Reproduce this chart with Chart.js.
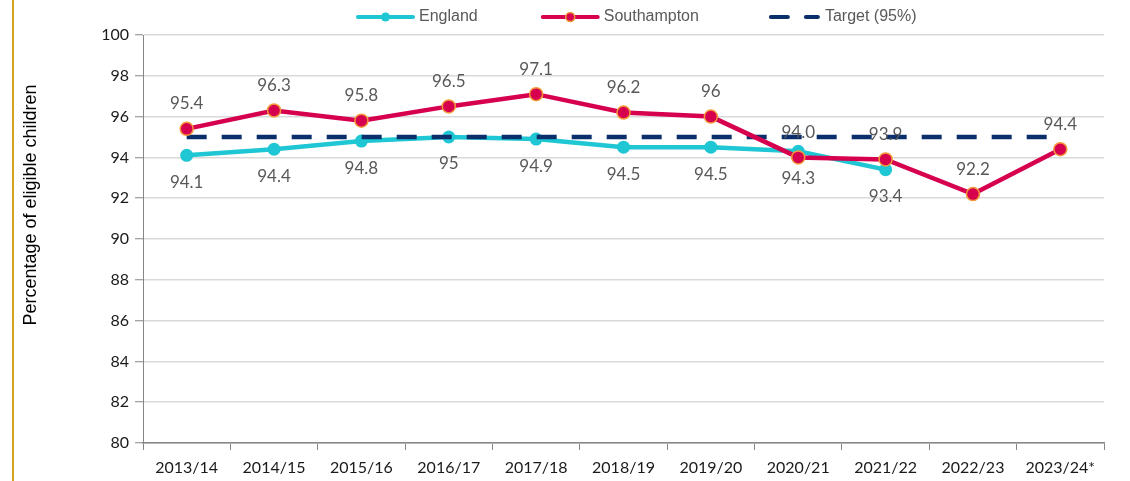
<!DOCTYPE html>
<html><head><meta charset="utf-8">
<script src="https://cdn.jsdelivr.net/npm/chart.js@4/dist/chart.umd.min.js"></script>
<style>
html,body{margin:0;padding:0;background:#fff;overflow:hidden;}
#wrap{position:relative;width:1130px;height:481px;}
#edge{position:absolute;left:12px;top:0;width:2px;height:481px;background:#D4A21C;}
canvas{position:absolute;left:0;top:0;}
</style></head><body>
<div id="wrap"><canvas id="c" width="1130" height="481"></canvas><div id="edge"></div></div>
<script>
const categories = ['2013/14','2014/15','2015/16','2016/17','2017/18','2018/19','2019/20','2020/21','2021/22','2022/23','2023/24*'];
const england = [94.1, 94.4, 94.8, 95.0, 94.9, 94.5, 94.5, 94.3, 93.4, null, null];
const englandLabels = ['94.1','94.4','94.8','95','94.9','94.5','94.5','94.3','93.4', null, null];
const southampton = [95.4, 96.3, 95.8, 96.5, 97.1, 96.2, 96.0, 94.0, 93.9, 92.2, 94.4];
const southamptonLabels = ['95.4','96.3','95.8','96.5','97.1','96.2','96','94.0','93.9','92.2','94.4'];
const target = [95, 95, 95, 95, 95, 95, 95, 95, 95, 95, 95];
const seriesNames = ['England', 'Southampton', 'Target (95%)'];
const yAxisTitle = 'Percentage of eligible children';
const yMin = 80, yMax = 100, yStep = 2;

const CYAN = '#1FC6D3', RED = '#D6004F', ORANGE = '#F39A3A', NAVY = '#0B2F6B';

const labelPlugin = {
  id: 'valueLabels',
  afterDatasetsDraw(chart) {
    const ctx = chart.ctx;
    ctx.save();
    ctx.font = '17px Lato';
    ctx.fillStyle = '#595959';
    ctx.textAlign = 'center';
    ctx.textBaseline = 'middle';
    chart.data.datasets.forEach((ds, i) => {
      if (!ds.valueLabels) return;
      const meta = chart.getDatasetMeta(i);
      meta.data.forEach((pt, j) => {
        const t = ds.valueLabels[j];
        if (t == null || ds.data[j] == null) return;
        ctx.fillText(t, pt.x, pt.y + ds.labelOffset);
      });
    });
    ctx.restore();
  }
};

const decorPlugin = {
  id: 'customLegend',
  afterDraw(chart) {
    const ctx = chart.ctx;
    ctx.save();
    // y-axis title
    ctx.save();
    ctx.translate(31, 205);
    ctx.rotate(-Math.PI / 2);
    ctx.font = '18px "Liberation Sans", Arial, sans-serif';
    ctx.fillStyle = '#000';
    ctx.textAlign = 'center';
    ctx.textBaseline = 'middle';
    ctx.fillText(yAxisTitle, 0, 0);
    ctx.restore();
    // legend
    ctx.font = '16px "Liberation Sans", Arial, sans-serif';
    ctx.fillStyle = '#595959';
    ctx.textBaseline = 'middle';
    const y = 17;
    let x = 357;
    const sw = 57, gap = 5, spacing = 64;
    seriesNames.forEach((name, i) => {
      ctx.lineCap = 'round';
      if (i === 2) {
        ctx.strokeStyle = NAVY; ctx.lineWidth = 4;
        ctx.beginPath(); ctx.moveTo(x + 8, y); ctx.lineTo(x + 25, y); ctx.stroke();
        ctx.beginPath(); ctx.moveTo(x + 43, y); ctx.lineTo(x + sw - 2, y); ctx.stroke();
      } else {
        const col = i === 0 ? CYAN : RED;
        ctx.strokeStyle = col; ctx.lineWidth = 4;
        ctx.beginPath(); ctx.moveTo(x + 1, y); ctx.lineTo(x + sw - 1, y); ctx.stroke();
        ctx.beginPath(); ctx.arc(x + sw / 2, y, 4.5, 0, Math.PI * 2);
        ctx.fillStyle = col; ctx.fill();
        if (i === 1) { ctx.strokeStyle = ORANGE; ctx.lineWidth = 1.5; ctx.stroke(); }
      }
      ctx.fillStyle = '#595959';
      ctx.fillText(name, x + sw + gap, y);
      x += sw + gap + ctx.measureText(name).width + spacing;
    });
    ctx.restore();
  }
};

new Chart(document.getElementById('c'), {
  type: 'line',
  data: {
    labels: categories,
    datasets: [
      { label: seriesNames[0], data: england, borderColor: CYAN, backgroundColor: CYAN,
        borderWidth: 4.5, pointRadius: 6.5, pointHoverRadius: 6.5, pointBorderWidth: 0,
        pointBackgroundColor: CYAN, tension: 0, order: 2,
        valueLabels: englandLabels, labelOffset: 27 },
      { label: seriesNames[1], data: southampton, borderColor: RED, backgroundColor: RED,
        borderWidth: 4.5, pointRadius: 6.5, pointHoverRadius: 6.5, pointBorderWidth: 1.5,
        pointBackgroundColor: RED, pointBorderColor: ORANGE, tension: 0, order: 0,
        valueLabels: southamptonLabels, labelOffset: -25 },
      { label: seriesNames[2], data: target, borderColor: NAVY, borderWidth: 4.5,
        borderDash: [20, 15], pointRadius: 0, pointHoverRadius: 0, tension: 0, order: 1 }
    ]
  },
  options: {
    responsive: false,
    animation: false,
    devicePixelRatio: 1,
    layout: { padding: { left: 14, right: 26, top: 35, bottom: 0 } },
    plugins: { legend: { display: false }, tooltip: { enabled: false } },
    scales: {
      x: {
        offset: true,
        grid: { offset: true, drawOnChartArea: false, drawTicks: true, tickLength: 7, tickColor: '#868686', tickWidth: 1 },
        border: { color: '#868686', width: 1.5 },
        ticks: { color: '#1a1a1a', font: { family: 'Lato', size: 16 }, padding: 8, maxRotation: 0, autoSkip: false },
        afterFit(s) { s.height = 38; }
      },
      y: {
        min: yMin, max: yMax,
        ticks: { stepSize: yStep, color: '#1a1a1a', font: { family: 'Lato', size: 16 }, padding: 6 },
        grid: { color: '#d9d9d9', lineWidth: 1.5, tickLength: 8, tickColor: '#868686', tickWidth: 1 },
        border: { color: '#868686', width: 1 },
        afterFit(s) { s.width = 129; }
      }
    }
  },
  plugins: [labelPlugin, decorPlugin]
});
</script>
</body></html>
